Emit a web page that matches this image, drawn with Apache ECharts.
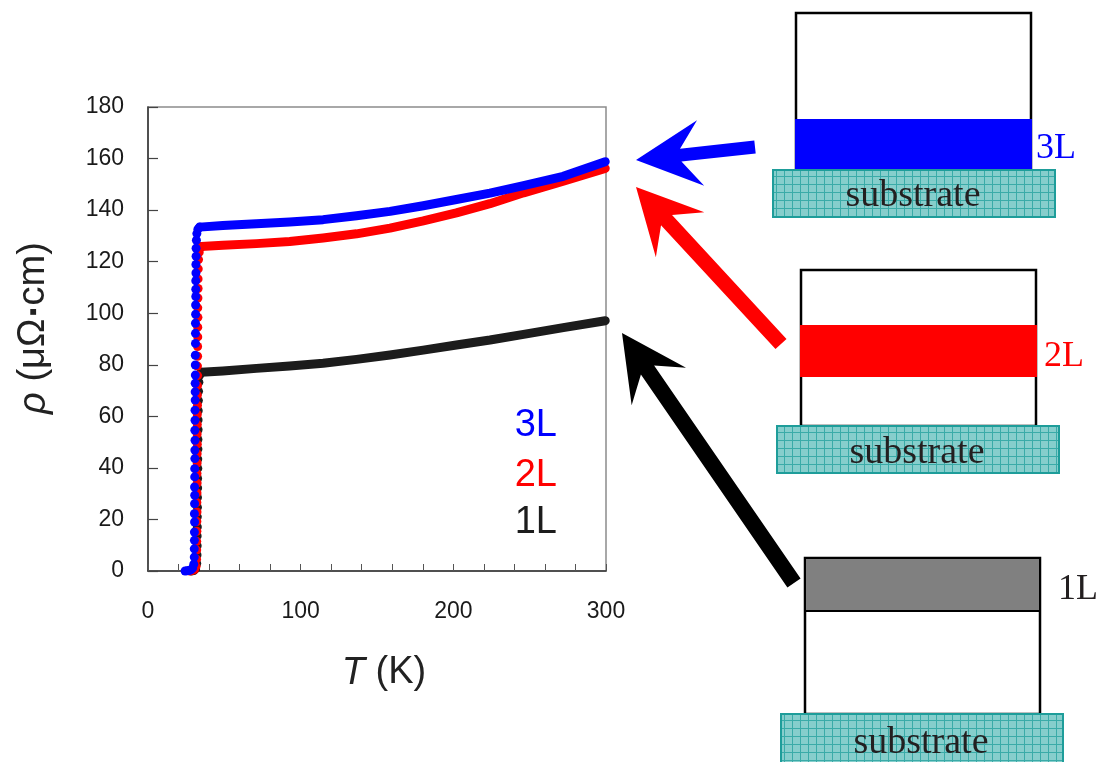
<!DOCTYPE html>
<html>
<head>
<meta charset="utf-8">
<script src="https://cdn.jsdelivr.net/npm/echarts@6/dist/echarts.min.js"></script>
<style>
  html, body { margin: 0; padding: 0; background: #ffffff; }
  #chart { width: 1101px; height: 762px; }
</style>
</head>
<body>
<div id="chart"></div>
<script>
// Resistivity ρ(T) of 1-, 2- and 3-layer films, with a sharp superconducting drop near 30 K.
// T in K, ρ in μΩ·cm.

const sampleNames = ['1L', '2L', '3L'];
const sampleColors = ['#1c1c1c', '#ff0000', '#0000ff'];

const xRange = [0, 300];
const yRange = [0, 180];
const xLabelValues = [0, 100, 200, 300];

// Points through the resistive transition (drawn as separate dots)
const transition1L = [[28.5,0],[30,0.2],[31.2,0.8],[31.9,2.9],[32.1,6.2],[32.2,9.8],[32.2,13.6],[32.3,17.1],[32.3,21],[32.4,24.7],[32.4,28.5],[32.5,32.2],[32.5,35.9],[32.6,39.8],[32.6,43.4],[32.7,47.3],[32.7,51],[32.8,54.8],[32.8,58.6],[32.9,62.2],[33,66.1],[33.1,69.7],[33.3,73.2],[33.8,75.9],[34.9,77.1]];
const transition2L = [[27.5,0],[29,0.2],[30.5,0.6],[31.5,1.8],[31.8,4.6],[31.9,8.1],[31.9,11.5],[32,15.4],[32,19.2],[32.1,22.9],[32,26.6],[32.1,30.3],[32.2,34.1],[32.1,37.8],[32.2,41.9],[32.2,45.5],[32.3,49.2],[32.2,53.1],[32.3,56.8],[32.3,60.7],[32.4,64.3],[32.3,68.2],[32.4,71.9],[32.5,75.8],[32.4,79.5],[32.5,83.3],[32.5,87.1],[32.6,90.8],[32.6,94.6],[32.7,98.4],[32.6,102.1],[32.7,105.9],[32.8,109.6],[32.8,113.3],[32.9,117.2],[33.1,120.8],[33.5,123.6],[34.2,125.3],[34.9,125.9]];
const transition3L = [[24.3,0],[25.6,0.1],[26.9,0.2],[28.1,0.5],[29.2,1.1],[30,2.6],[30.3,5.4],[30.3,8.6],[30.4,11.9],[30.4,15.1],[30.5,19],[30.4,22.2],[30.5,26.1],[30.6,29.4],[30.5,32.6],[30.6,36.5],[30.6,39.7],[30.7,43.6],[30.7,46.9],[30.8,50.7],[30.7,54.6],[30.8,58.5],[30.8,62.4],[30.9,66.3],[30.9,69.5],[30.9,72.8],[31,76],[31,79.9],[31,83.7],[31.1,88.3],[31.1,92.2],[31.1,96.1],[31.2,99.6],[31.2,103.2],[31.3,106.5],[31.3,109.3],[31.3,112.6],[31.4,115.6],[31.4,118.9],[31.5,122.1],[31.5,125.2],[31.7,128.3],[32,130.9],[32.7,132.6],[33.8,133.4]];

// Normal-state resistivity above the transition (densely sampled, drawn as a thick trace)
const normal1L = [[34.9,77.1],[49,77.6],[71,78.6],[92.8,79.5],[114.7,80.6],[136.6,82.1],[158.5,83.8],[180.3,85.7],[202,87.7],[224,89.6],[246,91.8],[272,94.4],[299.5,97.1]];
const normal2L = [[34.9,125.9],[49,126.4],[71,127.0],[92.8,127.8],[114.7,129.2],[136.6,130.8],[158.5,133.0],[180.3,135.8],[202,138.9],[224,142.5],[246,146.7],[272,151.2],[299.5,156.2]];
const normal3L = [[33.8,133.4],[49,134.0],[71,134.7],[92.8,135.4],[114.7,136.3],[136.6,137.8],[158.5,139.5],[180.3,141.7],[202,144.1],[224,146.6],[246,149.5],[272,153.1],[299.5,158.8]];

const transitions = [transition1L, transition2L, transition3L];
const normals = [normal1L, normal2L, normal3L];

const sans = '"Liberation Sans", Arial, Helvetica, sans-serif';
const serif = '"Liberation Serif", "Times New Roman", serif';

// Hatched fill used for the substrate blocks
function makeGridPattern() {
  const c = document.createElement('canvas');
  c.width = 8; c.height = 8;
  const g = c.getContext('2d');
  g.fillStyle = '#86cecc';
  g.fillRect(0, 0, 8, 8);
  g.fillStyle = '#3aaba8';
  g.fillRect(0, 0, 8, 1);
  g.fillRect(0, 0, 1, 8);
  return c;
}
const gridPattern = makeGridPattern();

function substrate(x, y, w, h, textY) {
  return [
    { type: 'rect', shape: { x: x, y: y, width: w, height: h },
      style: { fill: { image: gridPattern, repeat: 'repeat' }, stroke: '#1e9d9a', lineWidth: 2 } },
    { type: 'text', x: x + w / 2 - 1, y: textY,
      style: { text: 'substrate', fontFamily: serif, fontSize: 38, fill: '#231f20', align: 'center', verticalAlign: 'middle' } }
  ];
}

// Block arrow with a swept-back head, pointing from tail to tip
function arrow(tail, tip, shaftHalf, color) {
  const neck = 45, wing = 65, wingHalf = 33;
  const dx = tail[0] - tip[0], dy = tail[1] - tip[1];
  const len = Math.hypot(dx, dy);
  const ux = dx / len, uy = dy / len, px = -uy, py = ux;
  const at = (d, off) => [tip[0] + ux * d + px * off, tip[1] + uy * d + py * off];
  return {
    type: 'polygon',
    shape: { points: [
      tip, at(wing, wingHalf), at(neck, shaftHalf), at(len, shaftHalf),
      at(len, -shaftHalf), at(neck, -shaftHalf), at(wing, -wingHalf)
    ] },
    style: { fill: color }
  };
}

const axisNameRich = {
  i: { fontFamily: sans, fontSize: 38, fontStyle: 'italic', fill: '#222' },
  d: { fontFamily: sans, fontSize: 12, fill: '#222', padding: [0, 3, 0, 3] }
};

const graphics = [
  // 3L structure
  { type: 'rect', shape: { x: 796, y: 13, width: 235, height: 157 }, style: { fill: '#fff', stroke: '#000', lineWidth: 2.5 } },
  { type: 'rect', shape: { x: 795, y: 119, width: 237, height: 51 }, style: { fill: '#0000ff' } },
  ...substrate(773, 170, 282, 47, 196),
  { type: 'text', x: 1036, y: 149, style: { text: '3L', fontFamily: serif, fontSize: 36, fill: '#0000ff', verticalAlign: 'middle' } },

  // 2L structure
  { type: 'rect', shape: { x: 801, y: 270, width: 235, height: 156 }, style: { fill: '#fff', stroke: '#000', lineWidth: 2.5 } },
  { type: 'rect', shape: { x: 800, y: 325, width: 237, height: 52 }, style: { fill: '#ff0000' } },
  ...substrate(777, 426, 282, 47, 453),
  { type: 'text', x: 1044, y: 357, style: { text: '2L', fontFamily: serif, fontSize: 36, fill: '#ff0000', verticalAlign: 'middle' } },

  // 1L structure
  { type: 'rect', shape: { x: 805, y: 558, width: 235, height: 156 }, style: { fill: '#fff', stroke: '#000', lineWidth: 2.5 } },
  { type: 'rect', shape: { x: 805, y: 558, width: 235, height: 53 }, style: { fill: '#808080', stroke: '#000', lineWidth: 2 } },
  ...substrate(781, 714, 282, 60, 743),
  { type: 'text', x: 1058, y: 590, style: { text: '1L', fontFamily: serif, fontSize: 36, fill: '#231f20', verticalAlign: 'middle' } },

  // arrows linking each structure to its curve
  arrow([755, 147], [636, 160], 6.5, '#0000ff'),
  arrow([781, 344], [636, 187], 7.5, '#ff0000'),
  arrow([794, 583], [622, 333], 8, '#000000'),

  // sample labels inside the plot
  { type: 'text', x: 557, y: 426, style: { text: '3L', fontFamily: sans, fontSize: 38, fill: '#0000ff', align: 'right', verticalAlign: 'middle' } },
  { type: 'text', x: 557, y: 476, style: { text: '2L', fontFamily: sans, fontSize: 38, fill: '#ff0000', align: 'right', verticalAlign: 'middle' } },
  { type: 'text', x: 557, y: 523, style: { text: '1L', fontFamily: sans, fontSize: 38, fill: '#1c1c1c', align: 'right', verticalAlign: 'middle' } },

  // axis titles
  { type: 'text', x: 384, y: 673,
    style: { text: '{i|T} (K)', fontFamily: sans, fontSize: 38, fill: '#222', align: 'center', verticalAlign: 'middle', rich: axisNameRich } },
  { type: 'text', x: 34, y: 328, rotation: Math.PI / 2,
    style: { text: '{i|ρ} (μΩ{d|■}cm)', fontFamily: sans, fontSize: 38, fill: '#222', align: 'center', verticalAlign: 'middle', rich: axisNameRich } }
];

const series = [];
for (let i = 0; i < sampleNames.length; i++) {
  series.push({
    name: sampleNames[i] + ' normal',
    type: 'line',
    data: normals[i],
    smooth: false,
    showSymbol: false,
    symbol: 'none',
    lineStyle: { color: sampleColors[i], width: 9, cap: 'round', join: 'round' },
    z: 2 + i * 2,
    silent: true,
    animation: false
  });
  series.push({
    name: sampleNames[i] + ' transition',
    type: 'scatter',
    data: transitions[i],
    symbol: 'circle',
    symbolSize: 9,
    itemStyle: { color: sampleColors[i], opacity: 1 },
    z: 3 + i * 2,
    silent: true,
    animation: false
  });
}

const chart = echarts.init(document.getElementById('chart'), null, { renderer: 'canvas' });
chart.setOption({
  backgroundColor: '#ffffff',
  animation: false,
  grid: {
    left: 148, top: 107, width: 458, height: 464,
    show: true, borderColor: '#8c8c8c', borderWidth: 1.5, backgroundColor: 'transparent'
  },
  xAxis: {
    type: 'value',
    min: xRange[0], max: xRange[1], interval: 20,
    axisLine: { show: true, onZero: false, lineStyle: { color: '#333', width: 1.5 } },
    axisTick: { show: true, inside: true, length: 7, lineStyle: { color: '#555', width: 1 } },
    axisLabel: {
      margin: 29, fontFamily: sans, fontSize: 23, color: '#1a1a1a',
      formatter: v => (xLabelValues.indexOf(v) >= 0 ? String(v) : '')
    },
    splitLine: { show: false }
  },
  yAxis: {
    type: 'value',
    min: yRange[0], max: yRange[1], interval: 20,
    axisLine: { show: true, onZero: false, lineStyle: { color: '#333', width: 1.5 } },
    axisTick: { show: true, inside: true, length: 10, lineStyle: { color: '#444', width: 1.2 } },
    axisLabel: { margin: 24, fontFamily: sans, fontSize: 23, color: '#1a1a1a' },
    splitLine: { show: false }
  },
  series: series,
  graphic: graphics
});
</script>
</body>
</html>
